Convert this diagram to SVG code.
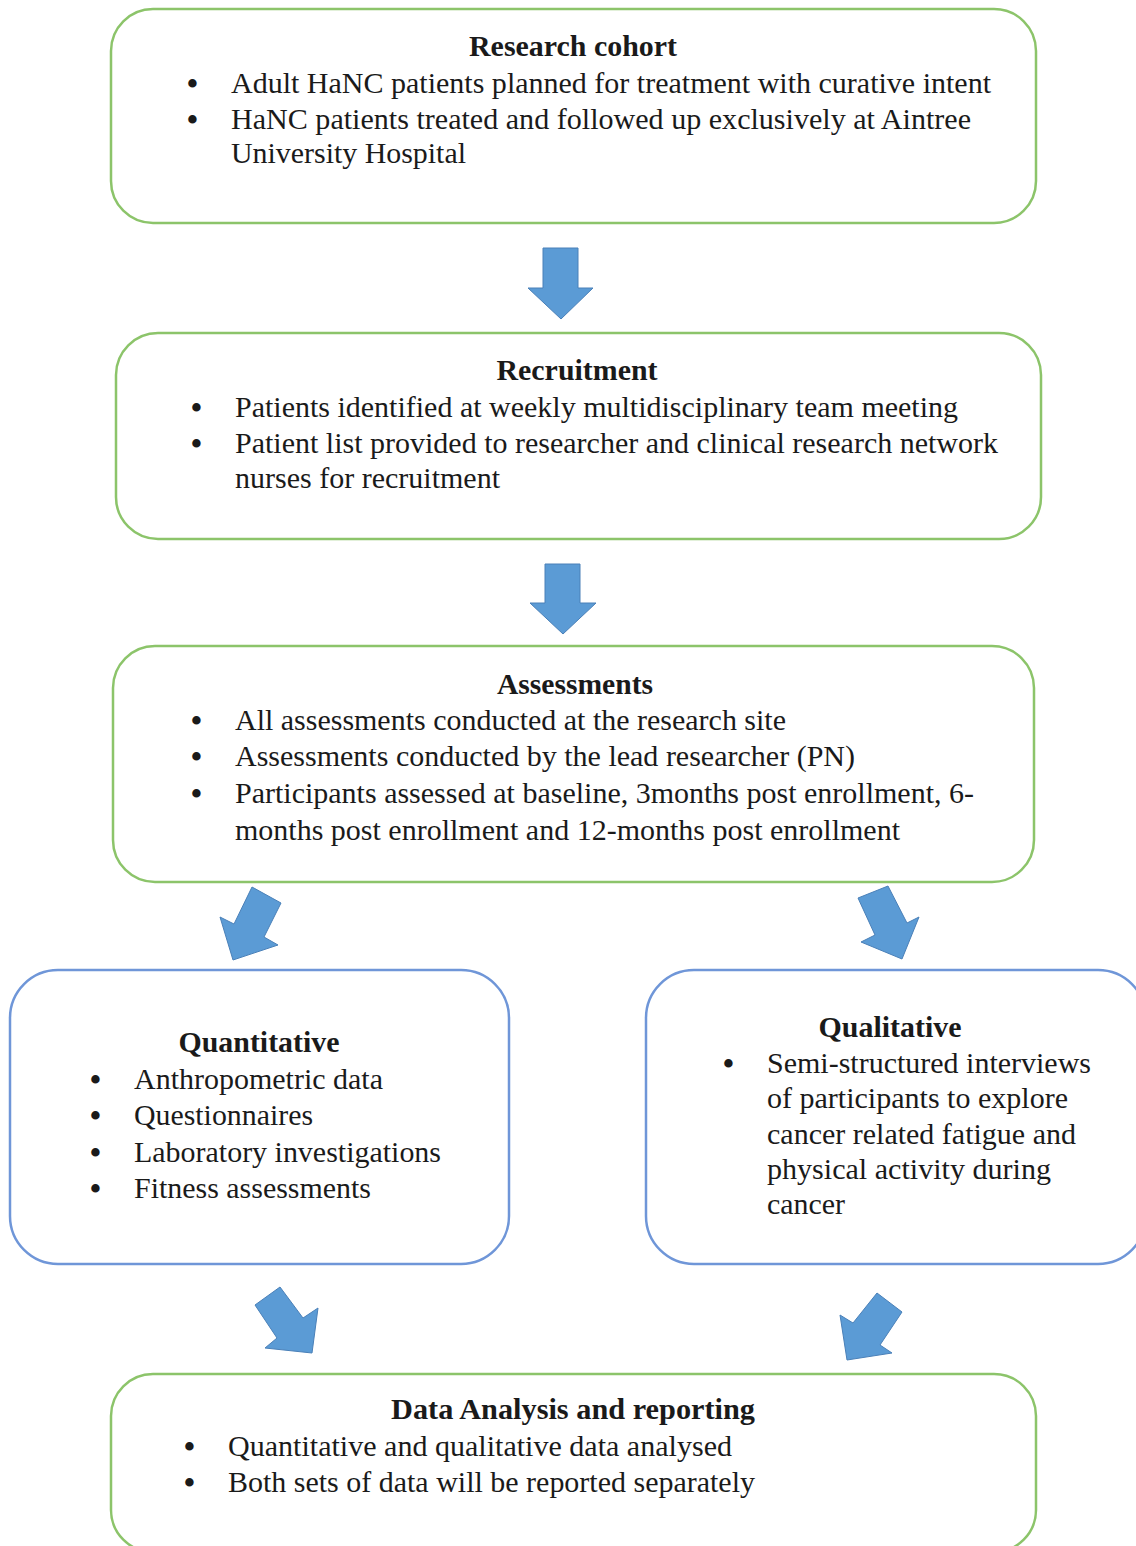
<svg xmlns="http://www.w3.org/2000/svg" width="1136" height="1546" viewBox="0 0 1136 1546">
<style>
.g{fill:#fff;stroke:#8cc46a;stroke-width:2.5}
.b{fill:#fff;stroke:#6f96d8;stroke-width:2.5}
.ar{fill:#5b9bd5;stroke:#4a80b8;stroke-width:1}
text{font-family:"Liberation Serif","Times New Roman",serif;font-size:29px;fill:#1a1a1a}
.t{font-weight:bold;text-anchor:middle}
.u{font-size:31px;font-weight:bold}
</style>
<rect width="1136" height="1546" fill="#fff"/>
<g id="connectors">
<polygon class="ar" points="543,248 578,248 578,288 593,288 561,319 528,288 543,288"/>
<polygon class="ar" points="545,564 580,564 580,603 596,603 563,634 530,603 545,603"/>
<polygon class="ar" points="252,887 281,903 264,937 278,945 233,960 220,917 234,924"/>
<polygon class="ar" points="858,898 888,886 907,923 919,917 902,959 861,942 875,935"/>
<polygon class="ar" points="255,1305 280,1287 303,1318 318,1308 312,1353 265,1348 277,1338"/>
<polygon class="ar" points="877,1293 902,1312 880,1345 892,1353 847,1360 840,1315 853,1323"/>
</g>
<g id="research-cohort">
<rect class="g" x="111" y="9" width="925" height="214" rx="42"/>
<text class="t" x="573" y="56" textLength="208" lengthAdjust="spacingAndGlyphs">Research cohort</text>
<text class="u" x="187" y="94">•</text>
<text x="231" y="93" textLength="760" lengthAdjust="spacingAndGlyphs">Adult HaNC patients planned for treatment with curative intent</text>
<text class="u" x="187" y="130">•</text>
<text x="231" y="129" textLength="740" lengthAdjust="spacingAndGlyphs">HaNC patients treated and followed up exclusively at Aintree</text>
<text x="231" y="163" textLength="235" lengthAdjust="spacingAndGlyphs">University Hospital</text>
</g>
<g id="recruitment">
<rect class="g" x="116" y="333" width="925" height="206" rx="42"/>
<text class="t" x="577" y="380" textLength="161" lengthAdjust="spacingAndGlyphs">Recruitment</text>
<text class="u" x="191" y="418">•</text>
<text x="235" y="417" textLength="723" lengthAdjust="spacingAndGlyphs">Patients identified at weekly multidisciplinary team meeting</text>
<text class="u" x="191" y="454">•</text>
<text x="235" y="453" textLength="763" lengthAdjust="spacingAndGlyphs">Patient list provided to researcher and clinical research network</text>
<text x="235" y="488" textLength="265" lengthAdjust="spacingAndGlyphs">nurses for recruitment</text>
</g>
<g id="assessments">
<rect class="g" x="113" y="646" width="921" height="236" rx="42"/>
<text class="t" x="575" y="694" textLength="156" lengthAdjust="spacingAndGlyphs">Assessments</text>
<text class="u" x="191" y="731">•</text>
<text x="235" y="730" textLength="551" lengthAdjust="spacingAndGlyphs">All assessments conducted at the research site</text>
<text class="u" x="191" y="767">•</text>
<text x="235" y="766" textLength="620" lengthAdjust="spacingAndGlyphs">Assessments conducted by the lead researcher (PN)</text>
<text class="u" x="191" y="804">•</text>
<text x="235" y="803" textLength="739" lengthAdjust="spacingAndGlyphs">Participants assessed at baseline, 3months post enrollment, 6-</text>
<text x="235" y="840" textLength="665" lengthAdjust="spacingAndGlyphs">months post enrollment and 12-months post enrollment</text>
</g>
<g id="quantitative">
<rect class="b" x="10" y="970" width="499" height="294" rx="48"/>
<text class="t" x="259" y="1052" textLength="161" lengthAdjust="spacingAndGlyphs">Quantitative</text>
<text class="u" x="90" y="1090">•</text>
<text x="134" y="1089" textLength="249" lengthAdjust="spacingAndGlyphs">Anthropometric data</text>
<text class="u" x="90" y="1126">•</text>
<text x="134" y="1125" textLength="179" lengthAdjust="spacingAndGlyphs">Questionnaires</text>
<text class="u" x="90" y="1163">•</text>
<text x="134" y="1162" textLength="307" lengthAdjust="spacingAndGlyphs">Laboratory investigations</text>
<text class="u" x="90" y="1199">•</text>
<text x="134" y="1198" textLength="237" lengthAdjust="spacingAndGlyphs">Fitness assessments</text>
</g>
<g id="qualitative">
<rect class="b" x="646" y="970" width="500" height="294" rx="48"/>
<text class="t" x="890" y="1037" textLength="143" lengthAdjust="spacingAndGlyphs">Qualitative</text>
<text class="u" x="723" y="1074">•</text>
<text x="767" y="1073" textLength="324" lengthAdjust="spacingAndGlyphs">Semi-structured interviews</text>
<text x="767" y="1108" textLength="301" lengthAdjust="spacingAndGlyphs">of participants to explore</text>
<text x="767" y="1144" textLength="309" lengthAdjust="spacingAndGlyphs">cancer related fatigue and</text>
<text x="767" y="1179" textLength="284" lengthAdjust="spacingAndGlyphs">physical activity during</text>
<text x="767" y="1214" textLength="78" lengthAdjust="spacingAndGlyphs">cancer</text>
</g>
<g id="data-analysis">
<rect class="g" x="111" y="1374" width="925" height="178" rx="42"/>
<text class="t" x="573" y="1419" textLength="364" lengthAdjust="spacingAndGlyphs">Data Analysis and reporting</text>
<text class="u" x="184" y="1457">•</text>
<text x="228" y="1456" textLength="504" lengthAdjust="spacingAndGlyphs">Quantitative and qualitative data analysed</text>
<text class="u" x="184" y="1493">•</text>
<text x="228" y="1492" textLength="527" lengthAdjust="spacingAndGlyphs">Both sets of data will be reported separately</text>
</g>
</svg>
